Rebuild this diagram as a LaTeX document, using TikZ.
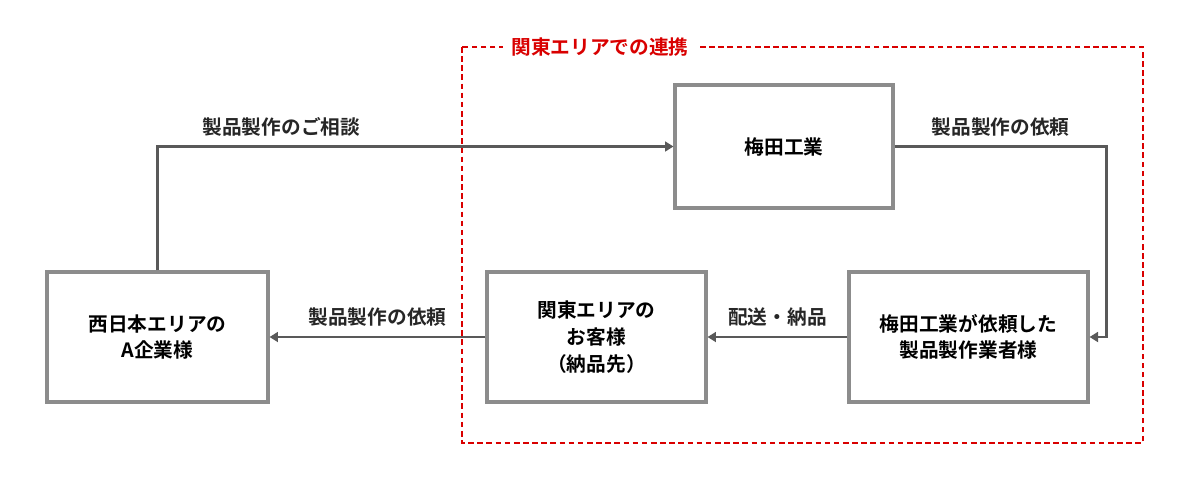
\documentclass[tikz,border=0pt]{standalone}
\usepackage{fontspec}
\setmainfont{Noto Sans CJK JP}[BoldFont={* Bold}]
\usetikzlibrary{arrows.meta,positioning}

\begin{document}
\begin{tikzpicture}[x=0.025cm, y=-0.025cm,
        box/.style={rectangle, draw=gray!90, line width=2.2pt, fill=white, align=center, font=\bfseries\fontsize{14}{19}\selectfont},
        arrow/.style={-{Triangle[length=6pt,width=7pt]}, draw=black!65, line width=2pt},
        lbl/.style={font=\bfseries\fontsize{14}{16}\selectfont, text=black!85}
    ]
        \useasboundingbox (0,0) rectangle (1200,482);
        % Kanto area frame
        \draw[red!85!black, dash pattern=on 4pt off 2.5pt, line width=1.4pt] (462,47) rectangle (1143,443);
        \node[fill=white, text=red!85!black, font=\bfseries\fontsize{14}{16}\selectfont, inner xsep=6pt] (area) at (600,47) {関東エリアでの連携};

        % Boxes
        \node[box, minimum width=221*0.025cm, minimum height=130*0.025cm] (west) at (157.5,337) {西日本エリアの\\A企業様};
        \node[box, minimum width=218*0.025cm, minimum height=123*0.025cm] (umeda) at (784,146.5) {梅田工業};
        \node[box, minimum width=219*0.025cm, minimum height=130*0.025cm] (client) at (596.5,337) {関東エリアの\\お客様\\（納品先）};
        \node[box, minimum width=239*0.025cm, minimum height=130*0.025cm] (maker) at (968.5,337) {梅田工業が依頼した\\製品製作業者様};

        % Arrows
        \draw[arrow] (west.north) |- (umeda.west) node[pos=0.62, above=3pt, lbl] {製品製作のご相談};
        \draw[arrow] (umeda.east) -- ++(212,0) node[midway, above=3pt, lbl] {製品製作の依頼} |- (maker.east);
        \draw[arrow] (maker) -- (client) node[midway, above=3pt, lbl] {配送・納品};
        \draw[arrow] (client) -- (west) node[midway, above=3pt, lbl] {製品製作の依頼};
    \end{tikzpicture}
\end{document}
